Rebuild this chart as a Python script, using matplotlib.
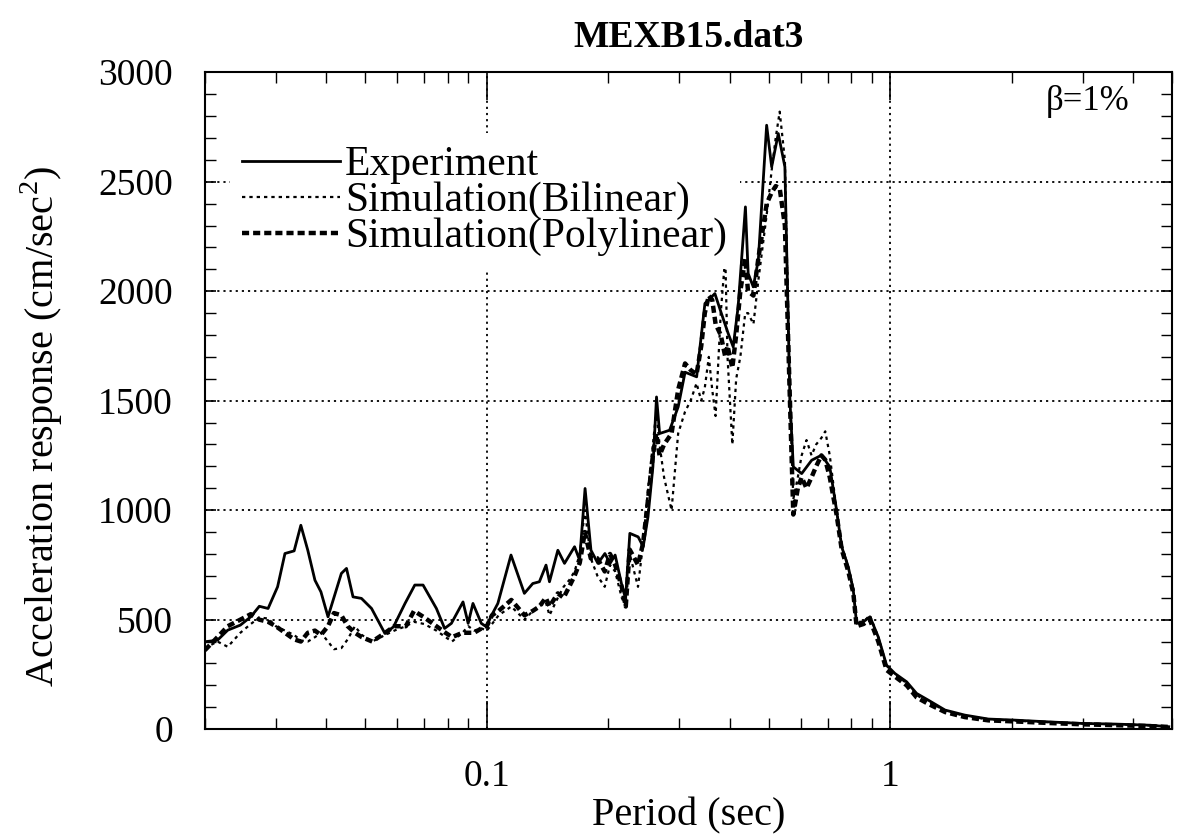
import matplotlib
matplotlib.use('Agg')
from matplotlib import pyplot as plt
from matplotlib.ticker import LogLocator, MultipleLocator, NullFormatter, FixedLocator, FixedFormatter

plt.rcParams['font.family'] = ['Liberation Serif', 'DejaVu Serif']
plt.rcParams['mathtext.fontset'] = 'custom'
plt.rcParams['mathtext.rm'] = 'Liberation Serif'

# experiment (solid line)
exp_T = [0.020, 0.0215, 0.0228, 0.0245, 0.026, 0.0273, 0.0287, 0.0303, 0.0316, 0.0333,
         0.0346, 0.036, 0.0375, 0.0388, 0.0404, 0.0436, 0.0449, 0.0466, 0.0489, 0.0518,
         0.0559, 0.0587, 0.0627, 0.0663, 0.0695, 0.075, 0.0786, 0.0817, 0.0873, 0.0899,
         0.0924, 0.0969, 0.0998, 0.1023, 0.1065, 0.1148, 0.1239, 0.130, 0.135, 0.1402,
         0.143, 0.150, 0.1558, 0.165, 0.1698, 0.1752, 0.1812, 0.1885, 0.1962, 0.2021,
         0.208, 0.2165, 0.2208, 0.2262, 0.2372, 0.2441, 0.2509, 0.258, 0.2634, 0.2681,
         0.2838, 0.2981, 0.31, 0.3312, 0.3472, 0.3675, 0.3815, 0.3965, 0.408, 0.4196,
         0.4375, 0.4444, 0.4575, 0.4709, 0.4938, 0.5082, 0.5277, 0.548, 0.564, 0.575,
         0.6031, 0.6385, 0.6755, 0.708, 0.736, 0.7577, 0.7868, 0.8096, 0.825, 0.8575,
         0.8906, 0.9337, 0.979, 1.027, 1.098, 1.162, 1.243, 1.367, 1.53, 1.75,
         2.04, 2.47, 2.98, 3.61, 4.37, 4.9]
exp_A = [399, 406, 452, 475, 513, 561, 551, 650, 802, 814,
         931, 817, 680, 627, 513, 711, 734, 604, 597, 551,
         437, 467, 574, 658, 658, 551, 460, 483, 581, 483,
         574, 483, 467, 513, 574, 795, 620, 665, 673, 749,
         673, 817, 757, 833, 772, 1099, 817, 757, 802, 757,
         795, 650, 597, 894, 878, 833, 970, 1198, 1517, 1350,
         1365, 1472, 1630, 1609, 1944, 1989, 1898, 1807, 1746, 1928,
         2385, 2081, 2020, 2142, 2758, 2568, 2720, 2568, 1502, 1198,
         1167, 1228, 1251, 1198, 1000, 833, 741, 635, 483, 490,
         513, 421, 292, 254, 216, 163, 132, 87, 64, 46,
         41, 33, 26, 23, 18, 11]

# simulations share one period grid
sim_T = [0.020, 0.0215, 0.0228, 0.0245, 0.026, 0.0273, 0.0287, 0.030, 0.0316, 0.0333,
         0.0346, 0.036, 0.0375, 0.0388, 0.0404, 0.0418, 0.0436, 0.0452, 0.0471, 0.049,
         0.052, 0.056, 0.059, 0.063, 0.066, 0.070, 0.075, 0.079, 0.082, 0.087,
         0.090, 0.093, 0.097, 0.100, 0.103, 0.107, 0.115, 0.124, 0.130, 0.135,
         0.140, 0.143, 0.150, 0.155, 0.160, 0.165, 0.170, 0.175, 0.181, 0.188,
         0.196, 0.202, 0.208, 0.216, 0.221, 0.226, 0.237, 0.244, 0.251, 0.258,
         0.263, 0.268, 0.275, 0.287, 0.298, 0.31, 0.32, 0.331, 0.34, 0.347,
         0.355, 0.362, 0.369, 0.38, 0.39, 0.395, 0.406, 0.415, 0.425, 0.437,
         0.444, 0.458, 0.471, 0.494, 0.508, 0.520, 0.532, 0.548, 0.564, 0.575,
         0.59, 0.603, 0.62, 0.638, 0.655, 0.675, 0.69, 0.708, 0.736, 0.758,
         0.787, 0.81, 0.825, 0.858, 0.89, 0.934, 0.979, 1.027, 1.098, 1.162,
         1.243, 1.367, 1.53, 1.75, 2.04, 2.47, 2.98, 3.61, 4.37, 4.9]
bil_A = [370, 400, 376, 440, 480, 510, 505, 470, 450, 430,
         405, 400, 420, 440, 400, 365, 370, 410, 470, 430,
         400, 430, 450, 470, 490, 480, 450, 420, 400, 440,
         470, 450, 460, 450, 480, 520, 560, 500, 540, 560,
         580, 520, 600, 650, 680, 720, 800, 1000, 780, 700,
         650, 750, 720, 600, 560, 800, 650, 850, 1100, 1300,
         1450, 1300, 1150, 1000, 1350, 1450, 1500, 1580, 1500, 1560,
         1700, 1550, 1430, 1900, 2160, 1700, 1300, 1600, 1700, 1900,
         1900, 1850, 2050, 2350, 2550, 2700, 2820, 2600, 1500, 1050,
         1150, 1250, 1320, 1250, 1300, 1330, 1360, 1250, 1000, 840,
         740, 640, 490, 490, 520, 420, 290, 250, 210, 155,
         125, 85, 60, 45, 38, 32, 26, 22, 17, 12]
poly_A = [360, 420, 470, 500, 525, 500, 490, 470, 440, 410,
          400, 440, 450, 430, 470, 530, 520, 470, 440, 420,
          400, 440, 470, 470, 540, 510, 470, 440, 420, 440,
          440, 440, 460, 470, 520, 540, 590, 520, 540, 560,
          600, 560, 620, 600, 650, 700, 760, 900, 780, 780,
          720, 800, 750, 650, 560, 820, 750, 850, 1050, 1250,
          1350, 1250, 1300, 1350, 1550, 1670, 1640, 1620, 1750, 1900,
          1980, 1960, 1850, 1800, 1700, 1750, 1650, 1800, 2000, 2150,
          2000, 1980, 2150, 2400, 2450, 2480, 2470, 2300, 1500, 980,
          1100, 1150, 1100, 1150, 1200, 1250, 1230, 1150, 980, 820,
          720, 620, 470, 480, 500, 400, 270, 240, 200, 145,
          115, 78, 55, 40, 35, 28, 22, 18, 14, 10]

fig = plt.figure(figsize=(11.77, 8.4), dpi=100)
ax = fig.add_axes([0.174, 0.132, 0.822, 0.782])

ax.plot(exp_T, exp_A, color='black', lw=2.0, ls='-', label='Experiment')
ax.plot(sim_T, bil_A, color='black', lw=1.6, ls=(0, (1.5, 1.8)), label='Simulation(Bilinear)')
ax.plot(sim_T, poly_A, color='black', lw=3.2, ls=(0, (1.6, 0.9)), label='Simulation(Polylinear)')

ax.set_xscale('log')
ax.set_xlim(0.02, 5)
ax.set_ylim(0, 3000)

ax.xaxis.set_major_locator(FixedLocator([0.1, 1]))
ax.xaxis.set_major_formatter(FixedFormatter(['0.1', '1']))
ax.xaxis.set_minor_locator(LogLocator(base=10, subs=range(2, 10)))
ax.xaxis.set_minor_formatter(NullFormatter())
ax.yaxis.set_major_locator(MultipleLocator(500))
ax.yaxis.set_minor_locator(MultipleLocator(100))

ax.tick_params(which='both', direction='in', top=True, right=True, color='black', labelsize=27)
ax.tick_params(axis='x', which='major', length=20, width=1.2, pad=22)
ax.tick_params(axis='x', which='minor', length=8, width=1.0)
ax.tick_params(axis='y', which='major', length=8, width=1.2, pad=23)
ax.tick_params(axis='y', which='minor', length=8, width=1.0)

ax.grid(True, which='major', color='black', ls=(0, (1.2, 2.2)), lw=1.3)
for s in ax.spines.values():
    s.set_linewidth(1.5)

ax.set_xlabel('Period (sec)', fontsize=29, labelpad=2)
ax.set_ylabel('Acceleration response (cm/sec$^2$)', fontsize=29)
ax.yaxis.set_label_coords(-0.145, 0.46)
ax.set_title('MEXB15.dat3', fontsize=27, fontweight='bold', pad=18)

ax.text(0.869, 0.955, '\u03b2=1%', transform=ax.transAxes, fontsize=25, ha='left', va='center')

leg = ax.legend(loc='upper left', bbox_to_anchor=(0.0, 0.945), frameon=True, fontsize=30,
                handlelength=2.35, handletextpad=0.12, labelspacing=-0.06, borderpad=0.3,
                borderaxespad=0.6)
leg.get_frame().set_edgecolor('none')
leg.get_frame().set_facecolor('white')
leg.get_frame().set_alpha(1.0)

fig.savefig('out.png', dpi=100)
